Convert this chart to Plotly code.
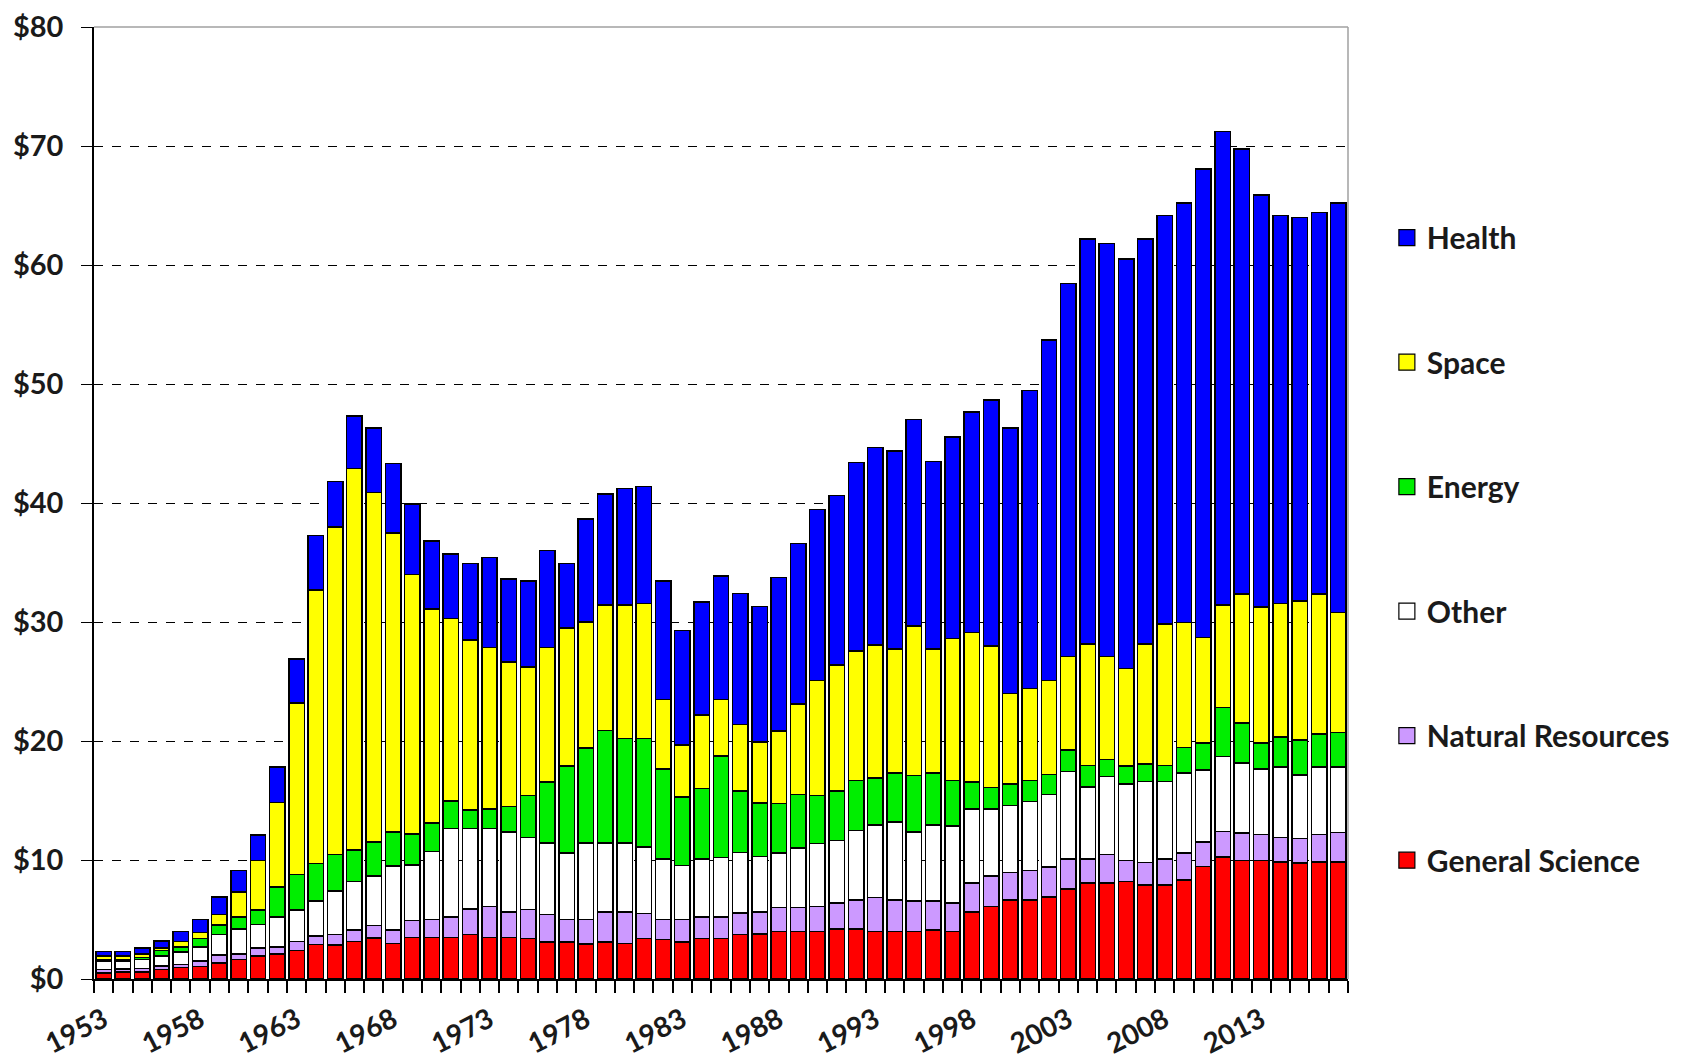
import plotly.graph_objects as go

years = list(range(1953, 2018))

general_science = [0.5,0.6,0.6,0.8,0.95,1.05,1.35,1.65,1.95,2.1,
                   2.4,2.9,2.85,3.15,3.45,3.0,3.5,3.5,3.5,3.75,
                   3.5,3.5,3.4,3.1,3.1,2.95,3.1,3.0,3.4,3.3,
                   3.1,3.4,3.4,3.75,3.8,4.0,4.0,4.0,4.2,4.2,
                   4.0,4.0,4.0,4.1,4.0,5.65,6.1,6.65,6.65,6.9,
                   7.55,8.05,8.05,8.2,7.9,7.9,8.3,9.45,10.25,9.95,
                   9.95,9.85,9.75,9.85,9.85]
natural_resources = [0.3,0.25,0.3,0.3,0.25,0.45,0.65,0.45,0.65,0.6,
                     0.75,0.7,0.9,0.95,1.05,1.1,1.4,1.5,1.7,2.15,
                     2.6,2.15,2.45,2.3,1.9,2.05,2.55,2.65,2.1,1.7,
                     1.9,1.8,1.8,1.8,1.85,2.0,2.0,2.1,2.2,2.45,
                     2.85,2.65,2.55,2.45,2.4,2.4,2.55,2.3,2.45,2.5,
                     2.55,2.05,2.4,1.75,1.9,2.2,2.3,2.05,2.15,2.3,
                     2.2,2.05,2.05,2.3,2.45]
other = [0.7,0.65,0.75,0.85,1.05,1.2,1.75,2.1,2.0,2.5,
         2.65,2.95,3.65,4.1,4.15,5.4,4.7,5.7,7.45,6.75,
         6.55,6.7,6.05,6.05,5.6,6.45,5.8,5.8,5.6,5.1,
         4.55,4.9,5.0,5.1,4.65,4.6,5.0,5.3,5.25,5.85,
         6.1,6.55,5.8,6.4,6.45,6.25,5.65,5.65,5.8,6.1,
         7.35,6.05,6.55,6.45,6.8,6.5,6.7,6.05,6.3,5.9,
         5.5,5.9,5.35,5.65,5.5]
energy = [0.1,0.1,0.15,0.45,0.45,0.7,0.8,1.0,1.2,2.55,
          3.0,3.15,3.05,2.65,2.85,2.85,2.6,2.4,2.3,1.55,
          1.65,2.15,3.5,5.1,7.3,7.95,9.45,8.75,9.1,7.55,
          5.75,5.9,8.55,5.15,4.5,4.15,4.5,4.0,4.15,4.2,
          3.95,4.1,4.75,4.35,3.85,2.25,1.8,1.8,1.8,1.7,
          1.8,1.8,1.45,1.5,1.45,1.35,2.15,2.3,4.1,3.35,
          2.2,2.55,2.95,2.8,2.9]
space = [0.35,0.35,0.3,0.2,0.45,0.5,0.85,2.1,4.15,7.1,
         14.4,23.0,27.55,32.05,29.4,25.15,21.8,18.0,15.35,14.3,
         13.55,12.15,10.8,11.3,11.6,10.6,10.55,11.25,11.35,5.85,
         4.35,6.2,4.75,5.6,5.1,6.1,7.6,9.7,10.6,10.85,
         11.15,10.45,12.55,10.45,11.9,12.55,11.9,7.6,7.7,7.9,
         7.85,10.2,8.65,8.2,10.1,11.9,10.5,8.85,8.65,10.85,
         11.4,11.2,11.65,11.75,10.1]
health = [0.35,0.35,0.5,0.6,0.85,1.1,1.5,1.8,2.15,2.95,
          3.7,4.55,3.8,4.4,5.4,5.8,5.9,5.7,5.4,6.4,
          7.55,6.95,7.25,8.15,5.4,8.65,9.3,9.75,9.85,9.95,
          9.65,9.5,10.35,11.0,11.4,12.9,13.5,14.35,14.25,15.85,
          16.6,16.6,17.35,15.75,16.95,18.55,20.65,22.3,25.05,28.6,
          31.35,34.05,34.7,34.4,34.05,34.3,35.25,39.35,39.75,37.4,
          34.65,32.6,32.25,32.05,34.4]

series = [
    ("General Science", general_science, "#ff0000"),
    ("Natural Resources", natural_resources, "#cc99ff"),
    ("Other", other, "#ffffff"),
    ("Energy", energy, "#00ee00"),
    ("Space", space, "#ffff00"),
    ("Health", health, "#0000ff"),
]

x_tick_labels = [str(y) for y in range(1953, 2018, 5)]
y_tick_vals = list(range(0, 90, 10))
y_tick_text = [f"${v}" for v in y_tick_vals]

LABEL_FONT = "Lato"

fig = go.Figure()
for name, vals, col in series:
    fig.add_trace(go.Bar(
        x=years, y=vals, name=name, showlegend=False,
        marker=dict(color=col, line=dict(color="#000000", width=1.5)),
    ))

# legend entries (larger square swatches), top-to-bottom: Health ... General Science
for rank, (name, vals, col) in enumerate(reversed(series)):
    fig.add_trace(go.Scatter(
        x=[None], y=[None], mode="markers", name=name,
        legendgroup=name, legendrank=rank + 1,
        marker=dict(symbol="square", size=18, color=col,
                    line=dict(color="#000000", width=1.2)),
    ))

fig.update_layout(
    width=1682, height=1061,
    barmode="stack", bargap=0.2,
    paper_bgcolor="white", plot_bgcolor="white",
    margin=dict(l=86, r=342, t=19, b=90, autoexpand=False),
    font=dict(family=LABEL_FONT, color="#1a1a1a"),
    legend=dict(
        traceorder="grouped", tracegroupgap=82.5,
        x=1.031, xanchor="left", y=0.806, yanchor="top",
        font=dict(family=LABEL_FONT, size=30, weight="bold", color="#1a1a1a"),
        bgcolor="rgba(0,0,0,0)",
    ),
    showlegend=True,
)

fig.update_xaxes(
    range=[1952.5, 2017.5], automargin=False,
    tickvals=[int(t) for t in x_tick_labels], ticktext=x_tick_labels,
    tickangle=-27, ticks="", ticklabelstandoff=12,
    tickfont=dict(family=LABEL_FONT, size=28, weight="bold", color="#1a1a1a"),
    showline=True, linecolor="#000000", linewidth=1.5,
    showgrid=False, zeroline=False,
    minor=dict(tick0=1952.5, dtick=1, ticks="outside", ticklen=12,
               tickcolor="#000000", tickwidth=1.5, showgrid=False),
)
fig.update_yaxes(
    range=[0, 80], tickvals=y_tick_vals, ticktext=y_tick_text, automargin=False,
    ticks="outside", ticklen=11, tickcolor="#000000", tickwidth=1.2,
    ticklabelstandoff=12,
    tickfont=dict(family=LABEL_FONT, size=29, weight="bold", color="#1a1a1a"),
    showline=True, linecolor="#000000", linewidth=1.5,
    showgrid=True, gridcolor="#000000", griddash="dash", gridwidth=1,
    zeroline=False,
)

fig.add_shape(type="line", xref="paper", yref="paper", x0=1, x1=1, y0=0, y1=1,
              line=dict(color="#a0a0a0", width=1.5))
fig.add_shape(type="line", xref="paper", yref="paper", x0=0, x1=1, y0=1, y1=1,
              line=dict(color="#a0a0a0", width=1.5))

fig.write_html("out.html")
